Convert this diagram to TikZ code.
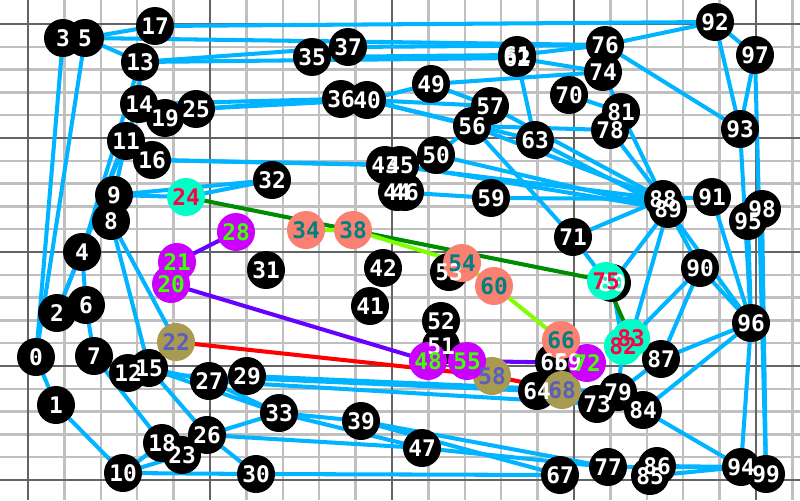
\documentclass[tikz,border=0pt]{standalone}
\usepackage{fontspec}
\setmonofont{DejaVu Sans Mono}
\definecolor{edgeblue}{RGB}{0,180,255}
\definecolor{gridlight}{RGB}{192,192,192}
\definecolor{griddark}{RGB}{100,100,100}
\definecolor{aquanode}{RGB}{0,255,200}
\definecolor{rosetext}{RGB}{255,0,64}
\definecolor{violetnode}{RGB}{204,0,255}
\definecolor{limetext}{RGB}{64,255,0}
\definecolor{salmonnode}{RGB}{250,128,114}
\definecolor{tealtext}{RGB}{0,128,128}
\definecolor{olivenode}{RGB}{168,154,80}
\definecolor{slatetext}{RGB}{90,95,190}
\definecolor{pathviolet}{RGB}{102,0,255}
\definecolor{pathlime}{RGB}{128,255,0}
\definecolor{pathgreen}{RGB}{0,140,0}
\tikzset{
  dot/.style={circle, minimum size=38*0.02cm, inner sep=0pt},
  num/.style={font=\ttfamily\bfseries\fontsize{13}{13}\selectfont, inner sep=0pt},
  link/.style={edgeblue, line width=2.3pt},
  route/.style={line width=2.3pt}
}
\begin{document}
\begin{tikzpicture}[x=0.02cm, y=-0.02cm]
    \useasboundingbox (0,0) rectangle (800,500);
    \fill[white] (0,0) rectangle (800,500);
    % grid
    \foreach \k in {0,...,21} \draw[gridlight, line width=1.4pt] (28+36.4*\k,0) -- (28+36.4*\k,500);
    \foreach \k in {0,...,20} \draw[gridlight, line width=1.4pt] (0,24+22.8*\k) -- (800,24+22.8*\k);
    \foreach \k in {0,...,4} \draw[griddark, line width=1.4pt] (28+182*\k,0) -- (28+182*\k,500);
    \foreach \k in {0,...,4} \draw[griddark, line width=1.4pt] (0,24+114*\k) -- (800,24+114*\k);

    % positions
    \foreach \n/\x/\y in {0/36/357, 1/56/405, 2/57/313, 3/63/38, 4/82/252, 5/85/38, 6/86/305, 7/94/356,
        8/111/221, 9/114/195, 10/123/473, 11/126/141, 12/128/373, 13/140/62, 14/139/104, 15/149/368,
        16/152/160, 17/155/26, 18/162/443, 19/165/118, 20/171/284, 21/177/262, 22/176/342, 23/182/455,
        24/186/197, 25/196/109, 26/207/435, 27/209/381, 28/236/232, 29/247/376, 30/256/474, 31/266/270,
        32/272/180, 33/279/413, 34/306/230, 35/312/57, 36/341/99, 37/348/47, 38/353/230, 39/361/421,
        40/367/100, 41/370/306, 42/383/268, 43/385/165, 44/397/192, 45/400/165, 46/405/192, 47/422/448,
        48/428/361, 49/431/84, 50/436/155, 51/441/346, 52/441/321, 53/449/272, 54/462/263, 55/467/361,
        56/472/126, 57/490/106, 58/492/376, 59/491/198, 60/494/286, 61/517/55, 62/517/58, 63/535/140,
        64/537/391, 65/554/362, 66/561/340, 67/560/475, 68/562/390, 69/568/362, 70/569/95, 71/573/237,
        72/587/363, 73/597/404, 74/603/72, 75/606/281, 76/605/45, 77/608/467, 78/610/130, 79/618/392,
        80/612/283, 81/621/112, 82/623/346, 83/631/338, 84/643/410, 85/650/476, 86/657/466, 87/661/359,
        88/663/199, 89/668/209, 90/700/268, 91/712/197, 92/715/22, 93/740/129, 94/741/467, 95/748/221,
        96/751/323, 97/755/55, 98/762/209, 99/766/474}
        \coordinate (p\n) at (\x,\y);

    % links
    \foreach \a/\b in {3/0, 5/0, 0/1, 1/10, 5/13, 5/17, 17/92, 5/76, 13/62, 13/37, 35/61, 37/76,
        14/36, 25/40, 25/36, 40/49, 40/57, 40/63, 40/56, 49/57, 49/74, 62/63, 62/74, 61/76, 70/81,
        74/81, 76/92, 76/93, 92/93, 92/97, 97/93, 97/99, 93/96, 81/89, 78/88, 56/78, 63/89, 57/88,
        56/88, 50/56, 16/43, 16/45, 9/24, 9/32, 24/32, 43/88, 45/89, 50/89, 44/59, 59/88, 56/71, 71/88,
        71/75, 89/80, 80/82, 89/83, 89/90, 89/96, 88/91, 91/96, 95/96, 98/99, 90/87, 90/83, 90/96,
        96/87, 96/84, 96/94, 94/99, 84/94, 79/82, 79/87, 79/84, 73/79, 77/94, 86/94, 85/94,
        10/30, 30/67, 10/18, 10/23, 26/30, 26/33, 26/47, 47/77, 39/77, 15/26, 15/27, 27/33, 15/33,
        29/64, 27/73, 12/64, 29/79, 33/39, 33/47, 39/67, 2/11, 2/14, 4/6, 6/7, 4/13, 7/18, 8/15, 8/22,
        8/9, 9/11, 13/14, 14/19}
        \draw[link] (p\a) -- (p\b);

    % routes
    \draw[route, pathgreen] (p24) -- (p75) -- (p83);
    \draw[route, pathlime] (p34) -- (p38) -- (p54) -- (p60) -- (p66);
    \draw[route, pathviolet] (p28) -- (p21) -- (p20) -- (p48) -- (p55) -- (p72);
    \draw[route, red] (p22) -- (p58) -- (p68);

    % discs
    \foreach \n in {0,...,19,23,25,26,27,29,30,31,32,33,35,36,37,39,40,41,42,43,44,45,46,47,49,50,51,52,53,56,57,59,61,62,63,64,65,67,69,70,71,73,74,76,77,78,79,80,81,84,85,86,87,88,89,90,91,92,93,94,95,96,97,98,99}
        \node[dot, fill=black] (n\n) at (p\n) {};
    \foreach \n in {22,58,68} \node[dot, fill=olivenode] (n\n) at (p\n) {};
    \foreach \n in {20,21,28,48,55,72} \node[dot, fill=violetnode] (n\n) at (p\n) {};
    \foreach \n in {34,38,54,60,66} \node[dot, fill=salmonnode] (n\n) at (p\n) {};
    \foreach \n in {24,75,82,83} \node[dot, fill=aquanode] (n\n) at (p\n) {};

    % labels
    \foreach \n in {0,...,19,23,25,26,27,29,30,31,32,33,35,36,37,39,40,41,42,43,44,45,46,47,49,50,51,52,53,56,57,59,61,62,63,64,65,67,69,70,71,73,74,76,77,78,79,80,81,84,85,86,87,88,89,90,91,92,93,94,95,96,97,98,99}
        \node[num, white] (t\n) at (p\n) {\n};
    \foreach \n in {22,58,68} \node[num, slatetext] (t\n) at (p\n) {\n};
    \foreach \n in {20,21,28,48,55,72} \node[num, limetext] (t\n) at (p\n) {\n};
    \foreach \n in {34,38,54,60,66} \node[num, tealtext] (t\n) at (p\n) {\n};
    \foreach \n in {24,75,82,83} \node[num, rosetext] (t\n) at (p\n) {\n};
\end{tikzpicture}
\end{document}
